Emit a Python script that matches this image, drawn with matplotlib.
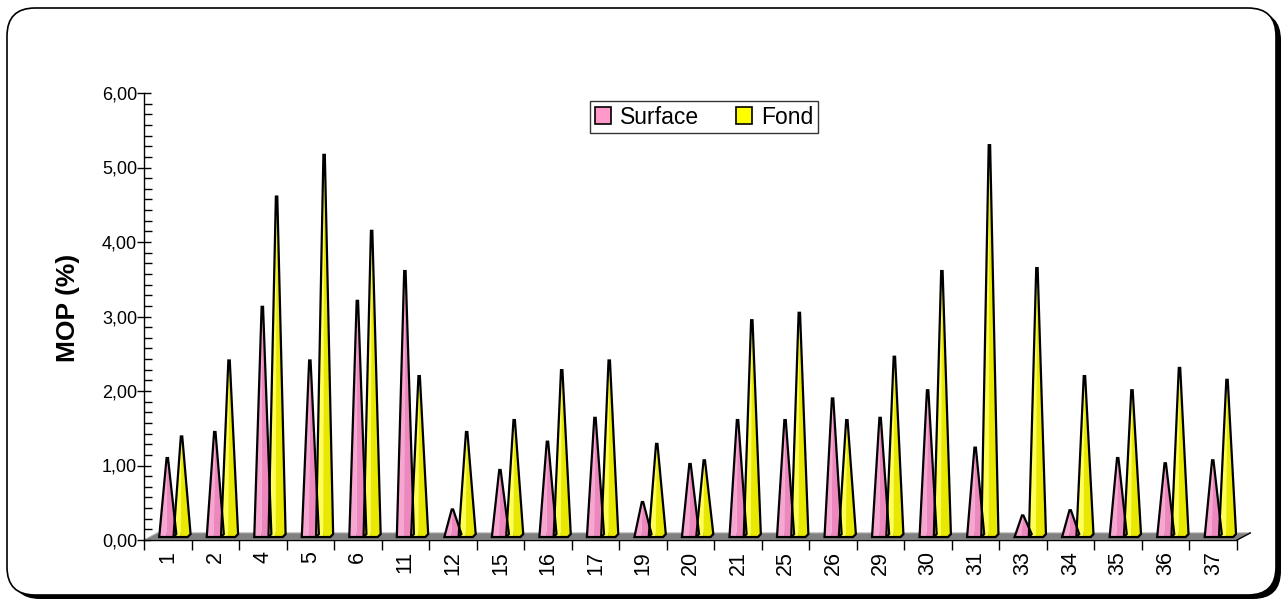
import numpy as np
import matplotlib.pyplot as plt
import matplotlib.transforms as mtransforms
from matplotlib.patches import FancyBboxPatch, Polygon, Patch
from matplotlib.ticker import MultipleLocator, FixedLocator, FuncFormatter

plt.rcParams['font.family'] = ['Liberation Sans', 'DejaVu Sans']

# stations and MOP values (%)
stations = ['1', '2', '4', '5', '6', '11', '12', '15', '16', '17', '19', '20',
            '21', '25', '26', '29', '30', '31', '33', '34', '35', '36', '37']
surface = [1.10, 1.45, 3.13, 2.41, 3.21, 3.61, 0.41, 0.94, 1.32, 1.64, 0.51, 1.02,
           1.61, 1.61, 1.90, 1.64, 2.01, 1.24, 0.33, 0.40, 1.10, 1.03, 1.07]
fond = [1.39, 2.41, 4.61, 5.17, 4.15, 2.20, 1.45, 1.61, 2.28, 2.41, 1.29, 1.07,
        2.95, 3.05, 1.61, 2.46, 3.61, 5.30, 3.65, 2.20, 2.01, 2.31, 2.15]

pink_light, pink_dark = '#F7A6D2', '#EC88BD'
yel_light, yel_dark = '#FFFF55', '#E8E800'

fig = plt.figure(figsize=(12.88, 6), dpi=100)
px = mtransforms.IdentityTransform()

# rounded frame with shadow
shadow = FancyBboxPatch((12, 1), 1269, 587, boxstyle='round,pad=0,rounding_size=28',
                        fc='black', ec='none', transform=px, zorder=-3)
frame = FancyBboxPatch((7, 5), 1269, 587, boxstyle='round,pad=0,rounding_size=28',
                       fc='white', ec='black', lw=1.2, transform=px, zorder=-2)
fig.add_artist(shadow)
fig.add_artist(frame)

ax = fig.add_axes([144 / 1288, 60 / 600, 1093 / 1288, 447 / 600])
ax.set_facecolor('none')
n = len(stations)
x = np.arange(n)
ax.set_xlim(-0.5, n - 0.5)
ax.set_ylim(0, 6)

# floor
dx, dy = 0.28, 0.095
floor = Polygon([(-0.5, 0), (n - 0.5, 0), (n - 0.5 + dx, dy), (-0.5 + dx, dy)],
                closed=True, fc='#808080', ec='#b0b0b0', lw=0.8, clip_on=False, zorder=1)
ax.add_patch(floor)
ax.plot([n - 0.5, n - 0.5 + dx], [0, dy], color='black', lw=1.0, clip_on=False, zorder=1)

half = 0.15
b0 = 0.04


def cone(xc, v, light, dark):
    xl, xr = xc - half, xc + half
    tip = xc + 0.02
    ax.add_patch(Polygon([(xl, b0), (tip, v), (xc, b0)], fc=light, ec='none', zorder=3))
    ax.add_patch(Polygon([(xc, b0), (tip, v), (xr + 0.06, b0 + 0.04), (xr, b0)],
                         fc=dark, ec='none', zorder=3))
    ax.add_patch(Polygon([(xl, b0), (tip - 0.015, v), (tip + 0.015, v),
                          (xr + 0.06, b0 + 0.04), (xr, b0)],
                         fill=False, ec='black', lw=1.6, joinstyle='miter', zorder=4))


for i in range(n):
    cone(x[i] - 0.03, surface[i], pink_light, pink_dark)
    cone(x[i] + 0.27, fond[i], yel_light, yel_dark)

# axes styling
for s in ['top', 'right']:
    ax.spines[s].set_visible(False)
ax.spines['left'].set_linewidth(1.0)
ax.spines['bottom'].set_linewidth(1.0)
ax.spines['left'].set_bounds(0, 6)

ax.yaxis.set_major_locator(MultipleLocator(1))
ax.yaxis.set_minor_locator(MultipleLocator(1 / 7))
ax.yaxis.set_major_formatter(FuncFormatter(lambda v, p: f'{v:.2f}'.replace('.', ',')))
ax.tick_params(axis='y', which='major', direction='inout', length=10, width=1.0,
               labelsize=13, pad=0)
ax.tick_params(axis='y', which='minor', direction='in', length=6, width=1.0)

ax.xaxis.set_major_locator(FixedLocator(np.arange(-0.5, n, 1.0)))
ax.xaxis.set_minor_locator(FixedLocator(x))
ax.xaxis.set_major_formatter(FuncFormatter(lambda v, p: ''))
ax.set_xticks(x, stations, minor=True)
ax.tick_params(axis='x', which='major', direction='out', length=7, width=1.0)
ax.tick_params(axis='x', which='minor', length=0, labelsize=15.5, labelrotation=90, pad=8)

ax.set_ylabel('MOP (%)', fontsize=19, fontweight='bold')
ax.yaxis.set_label_coords(-0.059, 0.52)

handles = [Patch(fc='#FF99CC', ec='black', lw=1.2, label='Surface'),
           Patch(fc='#FFFF00', ec='black', lw=1.2, label='Fond')]
leg = fig.legend(handles=handles, loc='center', bbox_to_anchor=(704 / 1288, 1 - 117 / 600),
                 ncol=2, fontsize=16.5, frameon=True, fancybox=False, handlelength=0.7,
                 handleheight=0.7, handletextpad=0.4, columnspacing=1.6, borderpad=0.2,
                 borderaxespad=0)
leg.get_frame().set_edgecolor('black')
leg.get_frame().set_linewidth(1.0)

fig.savefig('out.png', dpi=100)
